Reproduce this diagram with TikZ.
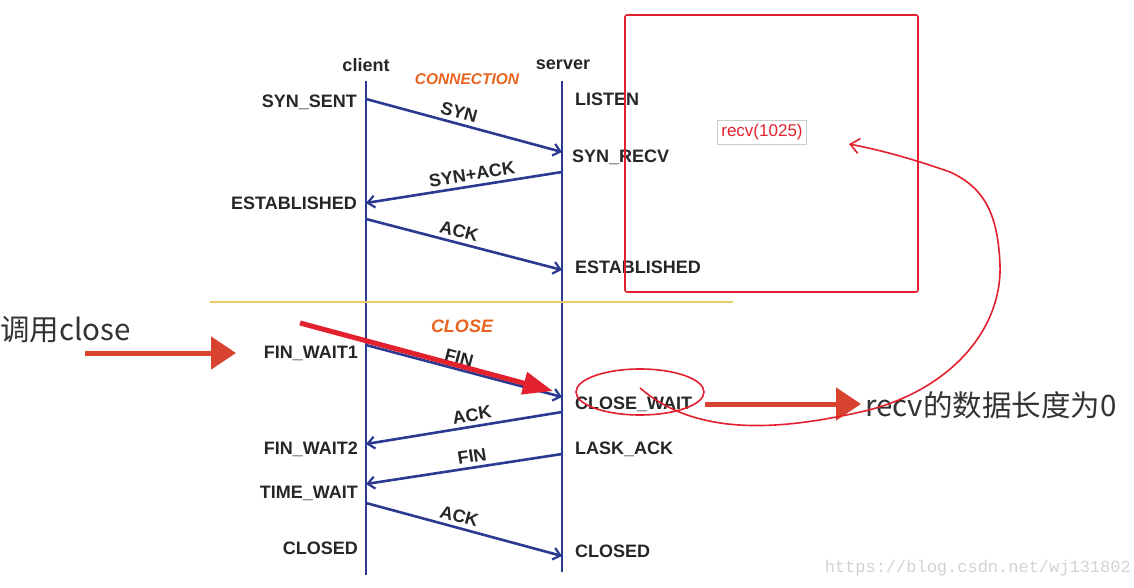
\documentclass[tikz,border=0pt]{standalone}
\usepackage{fontspec}
\setmainfont{Liberation Sans}
\newfontfamily\cjk{Noto Sans CJK SC}
\newfontfamily\wmfont{Liberation Mono}
\usetikzlibrary{arrows.meta,shapes.geometric}
\definecolor{navy}{HTML}{2B3990}
\definecolor{phaseorange}{HTML}{E8641E}
\definecolor{markred}{HTML}{E3202D}
\definecolor{brushred}{HTML}{D8432F}
\definecolor{sepyellow}{HTML}{EBC86A}
\tikzset{
  state/.style={font=\bfseries\fontsize{18}{18}\selectfont, text=black!85, inner sep=0pt},
  lifeline/.style={draw=navy, line width=2.8pt},
  msg/.style={draw=navy, line width=2.6pt, -{Straight Barb[length=7pt,width=12pt,line width=2.2pt]}},
  msgtext/.style={sloped, above=4pt, inner sep=0pt, font=\bfseries\fontsize{18}{18}\selectfont, text=black!85},
  phase/.style={font=\bfseries\itshape\fontsize{#1}{#1}\selectfont, text=phaseorange},
  brush/.style={draw=brushred, line width=5pt, -{Triangle[length=25pt,width=32pt]}},
  pen/.style={draw=markred, line width=1.6pt},
}
\begin{document}
\begin{tikzpicture}[x=1pt,y=-1pt]
    \useasboundingbox (0,0) rectangle (1134,588);
    % TCP handshake and close sequence
    \node[state] (client) at (366,65) {client};
    \node[state] (server) at (563,65) {server};
    \node[phase=15.5] (connection) at (467,79) {CONNECTION};
    \node[phase=18] (closephase) at (462,326) {CLOSE};

    \coordinate (ctop) at (366,81);
    \coordinate (cbot) at (366,575);
    \coordinate (stop) at (562,81);
    \coordinate (sbot) at (562,572);
    \draw[lifeline] (ctop) -- (cbot);
    \draw[lifeline] (stop) -- (sbot);
    \draw[sepyellow, line width=2pt] (210,302) -- (733,302);

    % states
    \node[state, anchor=east] (synsent) at (357,102) {SYN\_SENT};
    \node[state, anchor=east] (cestab) at (357,203) {ESTABLISHED};
    \node[state, anchor=east] (finwaitone) at (358,353) {FIN\_WAIT1};
    \node[state, anchor=east] (finwaittwo) at (358,449) {FIN\_WAIT2};
    \node[state, anchor=east] (timewait) at (358,493) {TIME\_WAIT};
    \node[state, anchor=east] (cclosed) at (358,548) {CLOSED};

    \node[state, anchor=west] (listen) at (575,99) {LISTEN};
    \node[state, anchor=west] (synrecv) at (572,157) {SYN\_RECV};
    \node[state, anchor=west] (sestab) at (575,267) {ESTABLISHED};
    \node[state, anchor=west] (closewait) at (575,404) {CLOSE\_WAIT};
    \node[state, anchor=west] (laskack) at (575,449) {LASK\_ACK};
    \node[state, anchor=west] (sclosed) at (575,551) {CLOSED};

    % messages
    \coordinate (c1) at (366,99);   \coordinate (s1) at (562,152);
    \coordinate (s2) at (562,172);  \coordinate (c2) at (366,203);
    \coordinate (c3) at (366,219);  \coordinate (s3) at (562,270);
    \coordinate (c4) at (366,345);  \coordinate (s4) at (562,397);
    \coordinate (s5) at (562,412);  \coordinate (c5) at (366,444);
    \coordinate (s6) at (562,454);  \coordinate (c6) at (366,484);
    \coordinate (c7) at (366,503);  \coordinate (s7) at (562,556);

    \draw[msg] (c1) -- node[msgtext, pos=0.46] {SYN} (s1);
    \draw[msg] (s2) -- node[msgtext, pos=0.45] {SYN+ACK} (c2);
    \draw[msg] (c3) -- node[msgtext, pos=0.46] {ACK} (s3);
    \draw[msg] (c4) -- node[msgtext, pos=0.46] {FIN} (s4);
    \draw[msg] (s5) -- node[msgtext, pos=0.45] {ACK} (c5);
    \draw[msg] (s6) -- node[msgtext, pos=0.45] {FIN} (c6);
    \draw[msg] (c7) -- node[msgtext, pos=0.46] {ACK} (s7);

    % annotations
    \node[anchor=west, inner sep=0pt, font=\cjk\fontsize{29.5}{29.5}\selectfont, text=black!80] (callclose) at (0,330) {调用close};
    \coordinate (brushonestart) at (85,353);
    \coordinate (brushoneend) at (236,353);
    \draw[brush] (brushonestart) -- (brushoneend);

    \coordinate (penstart) at (300,323);
    \coordinate (pentip) at (553,391);
    \draw[draw=markred, line width=5pt, -{Triangle[length=30pt,width=22pt]}] (penstart) -- (pentip);

    \node[pen, ellipse, minimum width=128, minimum height=46] (cwring) at (640,392) {};
    \coordinate (brushtwostart) at (705,404);
    \coordinate (brushtwoend) at (861,404);
    \draw[brush] (brushtwostart) -- (brushtwoend);
    \node[anchor=west, inner sep=0pt, font=\cjk\fontsize{29.5}{29.5}\selectfont, text=black!80] (recvzero) at (865,405) {recv的数据长度为0};

    \draw[pen, rounded corners=2pt] (625,15) rectangle (918,292);
    \node[draw=gray!40, line width=0.6pt, inner sep=4pt, font=\fontsize{17}{17}\selectfont, text=markred] (recvbox) at (762,132) {recv(1025)};

    \coordinate (cwstart) at (640,388);
    \coordinate (recvtip) at (849,144);
    \draw[pen, -{Straight Barb[length=9pt,width=15pt,line width=1.6pt]}] (cwstart) .. controls (700,440) and (790,428) .. (865,411) .. controls (950,390) and (1002,330) .. (1000,265) .. controls (998,215) and (985,188) .. (950,172) .. controls (910,158) and (880,150) .. (recvtip);

    \node[anchor=east, inner sep=0pt, font=\wmfont\fontsize{17}{17}\selectfont, text=gray!35] (watermark) at (1131,568) {https://blog.csdn.net/wj131802};
\end{tikzpicture}
\end{document}
